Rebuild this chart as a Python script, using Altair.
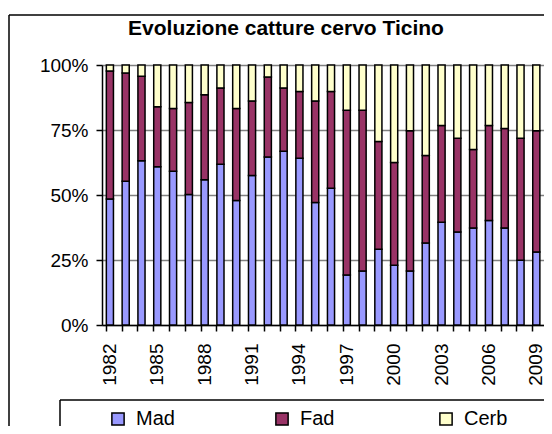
import altair as alt
import pandas as pd

years = list(range(1982, 2011))
mad = [48.5, 55.3, 63.2, 60.9, 59.1, 50.2, 55.9, 61.8, 47.9, 57.5,
       64.6, 66.8, 64.1, 47.1, 52.6, 19.2, 20.8, 29.1, 23.0, 20.8,
       31.5, 39.5, 35.8, 37.3, 40.2, 37.3, 24.9, 28.1, 23.6]
fad = [49.2, 41.6, 32.5, 23.0, 24.2, 35.4, 32.7, 29.4, 35.4, 28.7,
       30.8, 24.4, 25.7, 39.1, 37.2, 63.4, 61.8, 41.5, 39.5, 53.9,
       33.7, 37.2, 36.0, 30.2, 36.5, 38.3, 46.9, 46.6, 44.7]
cerb = [2.3, 3.1, 4.3, 16.1, 16.7, 14.4, 11.4, 8.8, 16.7, 13.8,
        4.6, 8.8, 10.2, 13.8, 10.2, 17.4, 17.4, 29.4, 37.5, 25.3,
        34.8, 23.3, 28.2, 32.5, 23.3, 24.4, 28.2, 25.3, 31.7]
series = ["Mad", "Fad", "Cerb"]
colors = ["#9999FF", "#993366", "#FFFFCC"]
title_text = "Evoluzione catture cervo Ticino"

rows = []
for i, yr in enumerate(years):
    for k, (name, vals) in enumerate(zip(series, [mad, fad, cerb])):
        rows.append({"year": yr, "serie": name, "ord": k, "val": vals[i]})
df = pd.DataFrame(rows)

FONT = "Liberation Sans"

bars = alt.Chart(df).mark_bar(stroke="black", strokeWidth=1.5).encode(
    x=alt.X("year:O", title=None,
            scale=alt.Scale(range=[0, 458], paddingInner=0.55, paddingOuter=0.275),
            axis=alt.Axis(bandPosition=0, labelAngle=270,
                          labelExpr="(datum.value - 1982) % 3 == 0 ? datum.label : ''",
                          tickSize=6, tickColor="black", tickWidth=1.5,
                          domainColor="black", domainWidth=1.5,
                          labelFont=FONT, labelFontSize=19, labelColor="black",
                          labelPadding=12, grid=False)),
    y=alt.Y("val:Q", stack="normalize", title=None,
            scale=alt.Scale(domain=[0, 1], nice=False),
            axis=alt.Axis(format=".0%", values=[0, 0.25, 0.5, 0.75, 1],
                          tickSize=6, tickColor="black", tickWidth=1.5,
                          domainColor="black", domainWidth=1.5,
                          grid=True, gridColor="#808080", gridWidth=1.5,
                          labelFont=FONT, labelFontSize=19, labelColor="black",
                          labelPadding=8)),
    color=alt.Color("serie:N", scale=alt.Scale(domain=series, range=colors),
                    legend=alt.Legend(title=None, orient="none", direction="horizontal",
                                      legendX=6, legendY=344,
                                      symbolType="square", symbolSize=150,
                                      symbolStrokeColor="black", symbolStrokeWidth=1.5,
                                      symbolOpacity=1,
                                      labelFont=FONT, labelFontSize=20, labelColor="black",
                                      labelOffset=8, gridAlign="all", columnPadding=92)),
    order=alt.Order("ord:Q", sort="ascending"),
)

one = alt.Data(values=[{}])


def hline(x1, x2, y):
    return alt.Chart(one).mark_rule(color="black", strokeWidth=1.5, clip=False).encode(
        x=alt.value(x1), x2=alt.value(x2), y=alt.value(y))


def vline(x, y1, y2):
    return alt.Chart(one).mark_rule(color="black", strokeWidth=1.5, clip=False).encode(
        x=alt.value(x), y=alt.value(y1), y2=alt.value(y2))


frame_top = hline(-93, 480, -50)
frame_left = vline(-93, -50, 420)
box_top = hline(-42, 480, 335)
box_left = vline(-42, 335, 420)

title = alt.Chart(one).mark_text(
    font=FONT, fontSize=21, fontWeight="bold", color="black",
    align="center", baseline="alphabetic", clip=False
).encode(x=alt.value(184), y=alt.value(-30), text=alt.value(title_text))

chart = alt.layer(frame_top, frame_left, box_top, box_left, bars, title).properties(
    width=442, height=260,
    autosize=alt.AutoSizeParams(type="none"),
    padding={"left": 94, "top": 57, "right": 0, "bottom": 101},
).configure_view(strokeWidth=0).configure(background="white")

chart.save("out.html", embed_options={"renderer": "svg", "actions": False})
